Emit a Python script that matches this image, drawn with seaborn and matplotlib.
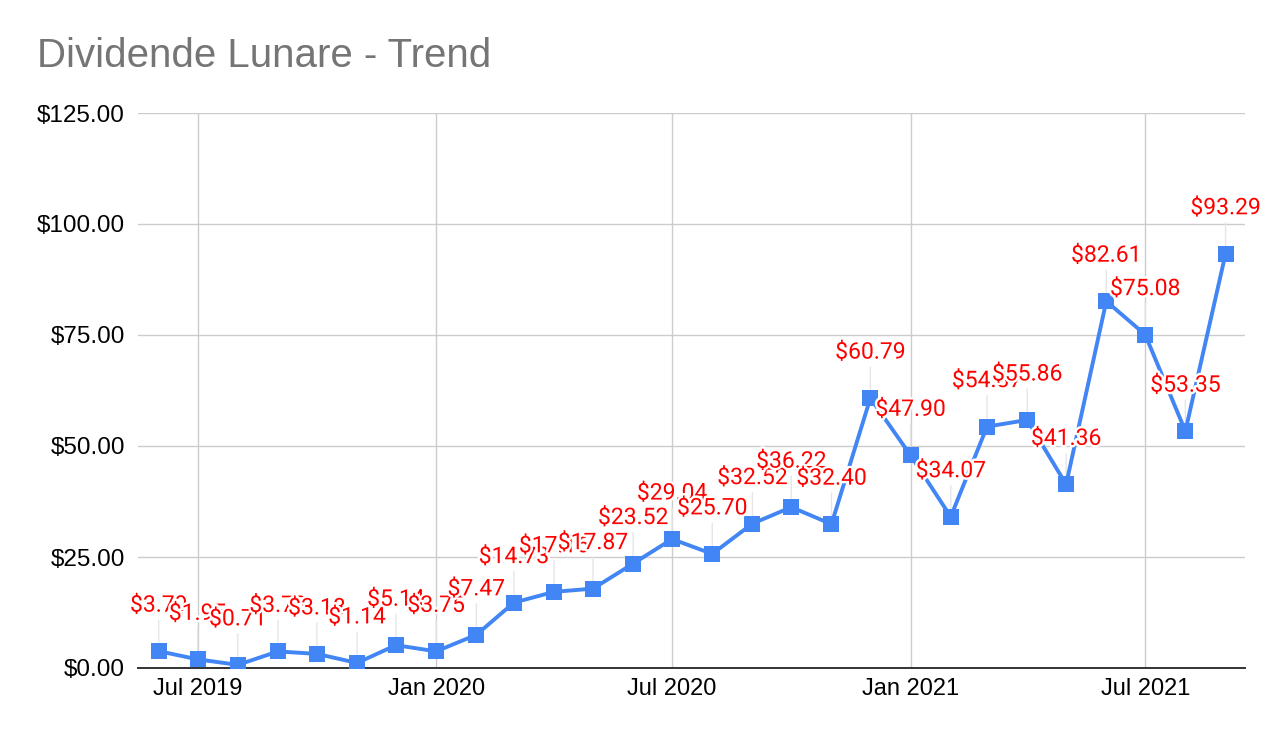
import matplotlib
matplotlib.use("Agg")
import matplotlib.pyplot as plt
import matplotlib.dates as mdates
import matplotlib.patheffects as pe
import seaborn as sns
import pandas as pd

# monthly dividends
months = ["2019-06-01", "2019-07-01", "2019-08-01", "2019-09-01", "2019-10-01",
          "2019-11-01", "2019-12-01", "2020-01-01", "2020-02-01", "2020-03-01",
          "2020-04-01", "2020-05-01", "2020-06-01", "2020-07-01", "2020-08-01",
          "2020-09-01", "2020-10-01", "2020-11-01", "2020-12-01", "2021-01-01",
          "2021-02-01", "2021-03-01", "2021-04-01", "2021-05-01", "2021-06-01",
          "2021-07-01", "2021-08-01", "2021-09-01"]
dividends = [3.79, 1.95, 0.71, 3.73, 3.18, 1.14, 5.14, 3.75, 7.47, 14.73,
             17.16, 17.87, 23.52, 29.04, 25.70, 32.52, 36.22, 32.40, 60.79, 47.90,
             34.07, 54.37, 55.86, 41.36, 82.61, 75.08, 53.35, 93.29]
tick_dates = ["2019-07-01", "2020-01-01", "2020-07-01", "2021-01-01", "2021-07-01"]
y_ticks = [0, 25, 50, 75, 100, 125]

df = pd.DataFrame({"month": pd.to_datetime(months), "dividend": dividends})

sns.set_style("white")
plt.rcParams["font.family"] = ["Liberation Sans", "DejaVu Sans"]

fig = plt.figure(figsize=(12.82, 7.42), dpi=100)
ax = fig.add_axes([138 / 1282, 74 / 742, (1245 - 138) / 1282, (668 - 113) / 742])

blue = "#4285F4"
sns.lineplot(data=df, x="month", y="dividend", ax=ax, color=blue, lw=2.8,
             marker="s", markersize=12, markeredgewidth=0, zorder=3)

halo = [pe.withStroke(linewidth=3.5, foreground="white")]
for d, v in zip(df["month"], df["dividend"]):
    ax.annotate("", xy=(d, v), xytext=(0, 31), textcoords="offset pixels",
                arrowprops=dict(arrowstyle="-", color="#e6e6e6", lw=1,
                                shrinkA=0, shrinkB=0), zorder=2)
for d, v in zip(df["month"], df["dividend"]):
    ax.annotate(f"${v:.2f}", xy=(d, v), xytext=(0, 46), textcoords="offset pixels",
                ha="center", va="center", color="#ff0000", fontsize=16.5,
                family=["Roboto", "DejaVu Sans"], path_effects=halo, zorder=4)

ax.set_xlim(pd.Timestamp("2019-05-16"), pd.Timestamp("2021-09-16"))
ax.set_ylim(0, 125)
ax.set_xticks(pd.to_datetime(tick_dates))
ax.xaxis.set_major_formatter(mdates.DateFormatter("%b %Y"))
ax.set_yticks(y_ticks)
ax.set_yticklabels([f"${t:.2f}" for t in y_ticks])
ax.tick_params(axis="y", length=0, pad=9.5, labelsize=17.5, colors="#000000")
ax.tick_params(axis="x", length=0, pad=7, labelsize=17, colors="#000000")
ax.grid(True, color="#cccccc", lw=1)
ax.set_axisbelow(True)
for s in ["top", "right", "left"]:
    ax.spines[s].set_visible(False)
ax.spines["bottom"].set_color("#333333")
ax.spines["bottom"].set_linewidth(1.4)
ax.spines["bottom"].set_zorder(2.5)
ax.set_xlabel("")
ax.set_ylabel("")

fig.text(37 / 1282, 1 - 56 / 742, "Dividende Lunare - Trend", ha="left", va="center",
         fontsize=29, color="#757575")

fig.savefig("out.png", dpi=100, facecolor="white")
